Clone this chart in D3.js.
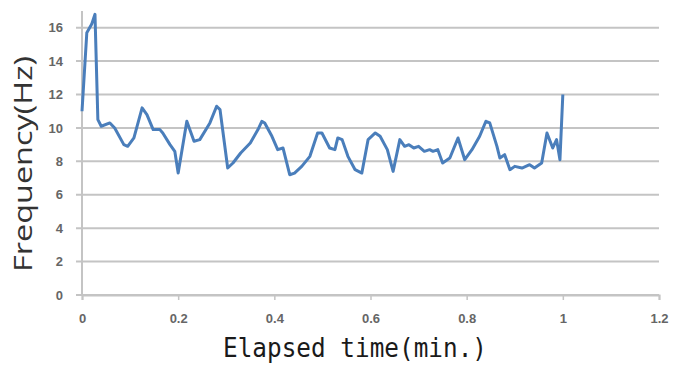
<!DOCTYPE html>
<html>
<head>
<meta charset="utf-8">
<script src="https://cdn.jsdelivr.net/npm/d3@7"></script>
<style>
  html, body { margin: 0; padding: 0; background: #fff; }
  svg { display: block; }
</style>
</head>
<body>
<svg id="chart" width="673" height="369"></svg>
<script>
// Elapsed time (min.) of each sample
const times = [
  0.000, 0.010, 0.020, 0.027, 0.033, 0.040, 0.058, 0.068, 0.087, 0.095,
  0.108, 0.125, 0.135, 0.148, 0.162, 0.168, 0.183, 0.193, 0.200, 0.218,
  0.233, 0.245, 0.266, 0.280, 0.287, 0.303, 0.314, 0.330, 0.350, 0.366,
  0.374, 0.380, 0.395, 0.407, 0.418, 0.432, 0.442, 0.457, 0.474, 0.490,
  0.499, 0.515, 0.526, 0.532, 0.541, 0.553, 0.568, 0.582, 0.595, 0.610,
  0.620, 0.635, 0.647, 0.661, 0.671, 0.680, 0.690, 0.700, 0.712, 0.723,
  0.730, 0.740, 0.750, 0.765, 0.782, 0.796, 0.811, 0.827, 0.840, 0.848,
  0.863, 0.869, 0.879, 0.890, 0.900, 0.915, 0.931, 0.941, 0.956, 0.967,
  0.979, 0.987, 0.994, 1.000
];
// Measured frequency (Hz) at each sample
const frequency = [
  11.0, 15.7, 16.2, 16.8, 10.5, 10.1, 10.3, 10.0,  9.0,  8.9,
   9.4, 11.2, 10.8,  9.9,  9.9,  9.7,  9.0,  8.6,  7.3, 10.4,
   9.2,  9.3, 10.3, 11.3, 11.1,  7.6,  7.9,  8.5,  9.1,  9.9,
  10.4, 10.3,  9.5,  8.7,  8.8,  7.2,  7.3,  7.7,  8.3,  9.7,
   9.7,  8.8,  8.7,  9.4,  9.3,  8.3,  7.5,  7.3,  9.3,  9.7,
   9.5,  8.7,  7.4,  9.3,  8.9,  9.0,  8.8,  8.9,  8.6,  8.7,
   8.6,  8.7,  7.9,  8.2,  9.4,  8.1,  8.7,  9.5, 10.4, 10.3,
   8.9,  8.2,  8.4,  7.5,  7.7,  7.6,  7.8,  7.6,  7.9,  9.7,
   8.8,  9.3,  8.1, 12.0
];
const xTicks = [0, 0.2, 0.4, 0.6, 0.8, 1, 1.2];
const yTicks = [0, 2, 4, 6, 8, 10, 12, 14, 16];

const svg = d3.select("#chart");
const plotLeft = 82, plotRight = 659, plotTop = 11, plotBottom = 295;

const x = d3.scaleLinear().domain([0, 1.2]).range([plotLeft, plotRight]);
const y = d3.scaleLinear().domain([0, 17]).range([plotBottom, plotTop]);

const gridColor = "#c4c4c4";
const tickColor = "#666";

// horizontal gridlines
svg.append("g")
  .selectAll("line")
  .data(yTicks)
  .join("line")
  .attr("x1", plotLeft - 6)
  .attr("x2", plotRight)
  .attr("y1", d => y(d))
  .attr("y2", d => y(d))
  .attr("stroke", gridColor)
  .attr("stroke-width", 2);

// vertical axis line
svg.append("line")
  .attr("x1", plotLeft).attr("x2", plotLeft)
  .attr("y1", plotTop).attr("y2", plotBottom)
  .attr("stroke", gridColor)
  .attr("stroke-width", 2);

// y axis
const yAxis = svg.append("g")
  .attr("transform", `translate(${plotLeft - 19},0)`)
  .call(d3.axisLeft(y).tickValues(yTicks).tickSize(0).tickPadding(0).tickFormat(d3.format("d")));
yAxis.select(".domain").remove();
yAxis.selectAll("text")
  .attr("fill", tickColor)
  .attr("font-family", "'Liberation Sans', Arial, sans-serif")
  .attr("font-weight", "bold")
  .attr("font-size", 13);

// x axis
const xAxis = svg.append("g")
  .attr("transform", `translate(0,${plotBottom})`)
  .call(d3.axisBottom(x).tickValues(xTicks).tickSize(5).tickPadding(14)
    .tickFormat(d => d3.format("~g")(d)));
xAxis.select(".domain").attr("stroke", gridColor).attr("stroke-width", 2);
xAxis.selectAll(".tick line").attr("stroke", gridColor).attr("stroke-width", 1.5);
xAxis.selectAll("text")
  .attr("fill", tickColor)
  .attr("font-family", "'Liberation Sans', Arial, sans-serif")
  .attr("font-weight", "bold")
  .attr("font-size", 13);

// frequency trace
const line = d3.line()
  .x((d, i) => x(times[i]))
  .y(d => y(d));

svg.append("path")
  .datum(frequency)
  .attr("d", line)
  .attr("fill", "none")
  .attr("stroke", "#4a7ebb")
  .attr("stroke-width", 3)
  .attr("stroke-linejoin", "round");

// axis titles
svg.append("text")
  .attr("x", 223)
  .attr("y", 357)
  .attr("textLength", 264)
  .attr("lengthAdjust", "spacingAndGlyphs")
  .attr("font-family", "'DejaVu Sans Mono', monospace")
  .attr("font-size", 26)
  .attr("fill", "#1a1a1a")
  .text("Elapsed time(min.)");

svg.append("text")
  .attr("transform", "translate(32,272) rotate(-90)")
  .attr("textLength", 216)
  .attr("lengthAdjust", "spacingAndGlyphs")
  .attr("font-family", "'Open Sans', sans-serif")
  .attr("font-size", 26)
  .attr("fill", "#333")
  .text("Frequency(Hz)");
</script>
</body>
</html>
